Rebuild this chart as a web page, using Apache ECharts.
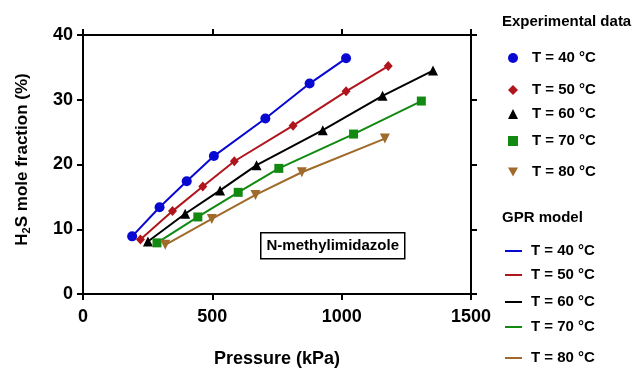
<!DOCTYPE html>
<html>
<head>
<meta charset="utf-8">
<script src="https://cdn.jsdelivr.net/npm/echarts@6/dist/echarts.min.js"></script>
<style>
  html, body { margin: 0; padding: 0; background: #fff; }
  #chart { width: 635px; height: 369px; }
</style>
</head>
<body>
<div id="chart"></div>
<script>
// H2S solubility in N-methylimidazole: pressure (kPa) vs mole fraction (%)
const temps = ['T = 40 °C', 'T = 50 °C', 'T = 60 °C', 'T = 70 °C', 'T = 80 °C'];

const p40 = [190, 296, 401, 506, 705, 876, 1017];
const x40 = [8.9, 13.4, 17.4, 21.3, 27.1, 32.5, 36.4];

const p50 = [222, 346, 463, 585, 812, 1017, 1180];
const x50 = [8.4, 12.8, 16.6, 20.5, 26.0, 31.3, 35.2];

const p60 = [251, 395, 530, 671, 927, 1158, 1353];
const x60 = [8.1, 12.4, 16.0, 19.9, 25.3, 30.6, 34.5];

const p70 = [286, 444, 600, 757, 1046, 1308];
const x70 = [7.9, 11.9, 15.7, 19.4, 24.7, 29.8];

const p80 = [318, 498, 667, 846, 1167];
const x80 = [7.6, 11.6, 15.3, 18.8, 24.0];

const xTicks = [0, 500, 1000, 1500];
const yTicks = [0, 10, 20, 30, 40];

const pressures = [p40, p50, p60, p70, p80];
const fractions = [x40, x50, x60, x70, x80];
const colors = ['#0808d2', '#b0141c', '#000000', '#128a12', '#a06a2a'];
const symbols = ['circle', 'diamond', 'triangle', 'rect', 'triangle'];
const symbolSizes = [10, [9, 10], 10, 9, 10];
const symbolRotates = [0, 0, 0, 0, 180];
// legend icons (the 80 °C marker points downwards)
const legendIcons = ['circle', 'diamond', 'triangle', 'rect', 'path://M0,0 L10,0 L5,9 Z'];

const FONT = '"Liberation Sans", Arial, Helvetica, sans-serif';

const pairs = (i) => pressures[i].map((p, k) => [p, fractions[i][k]]);

const series = [];
// GPR model curves
temps.forEach((t, i) => {
  series.push({
    name: 'gpr|' + t,
    type: 'line',
    data: pairs(i),
    symbol: 'none',
    lineStyle: { color: colors[i], width: 2 },
    itemStyle: { color: colors[i] },
    z: 2,
    silent: true
  });
});
// Experimental points
temps.forEach((t, i) => {
  series.push({
    name: 'exp|' + t,
    type: 'scatter',
    data: pairs(i),
    symbol: symbols[i],
    symbolSize: symbolSizes[i],
    symbolRotate: symbolRotates[i],
    itemStyle: { color: colors[i], opacity: 1 },
    z: 3
  });
});

const expTops = [50, 82, 106, 133, 164];
const gprTops = [243, 267, 294, 319, 350];

const legendText = { fontFamily: FONT, fontWeight: 'bold', fontSize: 15, color: '#000', lineHeight: 16 };
const legends = [];
temps.forEach((t, i) => {
  legends.push({
    data: [{ name: 'exp|' + t, icon: legendIcons[i] }],
    left: 508, top: expTops[i], padding: 0,
    itemWidth: 10, itemHeight: 10,
    formatter: (n) => n.split('|')[1],
    textStyle: Object.assign({ padding: [0, 0, 0, 9] }, legendText),
    selectedMode: false
  });
  legends.push({
    data: ['gpr|' + t],
    left: 505, top: gprTops[i], padding: 0,
    icon: 'rect', itemWidth: 17, itemHeight: 2,
    formatter: (n) => n.split('|')[1],
    textStyle: Object.assign({ padding: [0, 0, 0, 4] }, legendText),
    selectedMode: false
  });
});

const axisLine = { show: true, onZero: false, lineStyle: { color: '#000', width: 2 } };
const axisTick = { show: true, inside: false, length: 6, lineStyle: { color: '#000', width: 2 } };
const tickLabel = { fontFamily: FONT, fontWeight: 'bold', fontSize: 18, color: '#000', formatter: (v) => String(v) };

const chart = echarts.init(document.getElementById('chart'), null, { renderer: 'canvas' });
chart.setOption({
  animation: false,
  backgroundColor: '#fff',
  title: [
    { text: 'Experimental data', left: 502, top: 14, padding: 0,
      textStyle: { fontFamily: FONT, fontWeight: 'bold', fontSize: 15, color: '#000', lineHeight: 16 } },
    { text: 'GPR model', left: 502, top: 210, padding: 0,
      textStyle: { fontFamily: FONT, fontWeight: 'bold', fontSize: 15, color: '#000', lineHeight: 16 } }
  ],
  legend: legends,
  grid: { left: 83, right: 164, top: 35, bottom: 75, containLabel: false, outerBoundsMode: 'none' },
  xAxis: [
    {
      type: 'value', position: 'bottom',
      min: xTicks[0], max: xTicks[xTicks.length - 1], interval: 500,
      name: 'Pressure (kPa)', nameLocation: 'middle', nameGap: 56,
      nameTextStyle: { fontFamily: FONT, fontWeight: 'bold', fontSize: 18, color: '#000' },
      axisLine: axisLine, axisTick: axisTick,
      axisLabel: Object.assign({ margin: 14 }, tickLabel),
      splitLine: { show: false }
    },
    {
      type: 'value', position: 'top',
      min: xTicks[0], max: xTicks[xTicks.length - 1], interval: 500,
      axisLine: axisLine, axisTick: axisTick,
      axisLabel: { show: false }, splitLine: { show: false }
    }
  ],
  yAxis: [
    {
      type: 'value', position: 'left',
      min: yTicks[0], max: yTicks[yTicks.length - 1], interval: 10,
      name: '{n|H}{s|2}{n|S mole fraction (%)}', nameLocation: 'middle', nameGap: 51,
      nameRotate: 90,
      nameTextStyle: {
        padding: [0, 0, 0, 10],
        rich: {
          n: { fontFamily: FONT, fontWeight: 'bold', fontSize: 17, color: '#000' },
          s: { fontFamily: FONT, fontWeight: 'bold', fontSize: 11, color: '#000', padding: [8, 0, 0, 0] }
        }
      },
      axisLine: axisLine, axisTick: axisTick,
      axisLabel: Object.assign({ margin: 10 }, tickLabel),
      splitLine: { show: false }
    },
    {
      type: 'value', position: 'right',
      min: yTicks[0], max: yTicks[yTicks.length - 1], interval: 10,
      axisLine: axisLine, axisTick: axisTick,
      axisLabel: { show: false }, splitLine: { show: false }
    }
  ],
  graphic: [
    {
      type: 'group', left: 260, top: 232,
      children: [
        { type: 'rect', shape: { x: 0, y: 0, width: 144, height: 26 },
          style: { fill: '#fff', stroke: '#000', lineWidth: 1.5 } },
        { type: 'text', x: 72, y: 13,
          style: { text: 'N-methylimidazole', fontFamily: FONT, fontWeight: 'bold', fontSize: 15,
                   fill: '#000', align: 'center', verticalAlign: 'middle' } }
      ]
    }
  ],
  series: series
});
</script>
</body>
</html>
